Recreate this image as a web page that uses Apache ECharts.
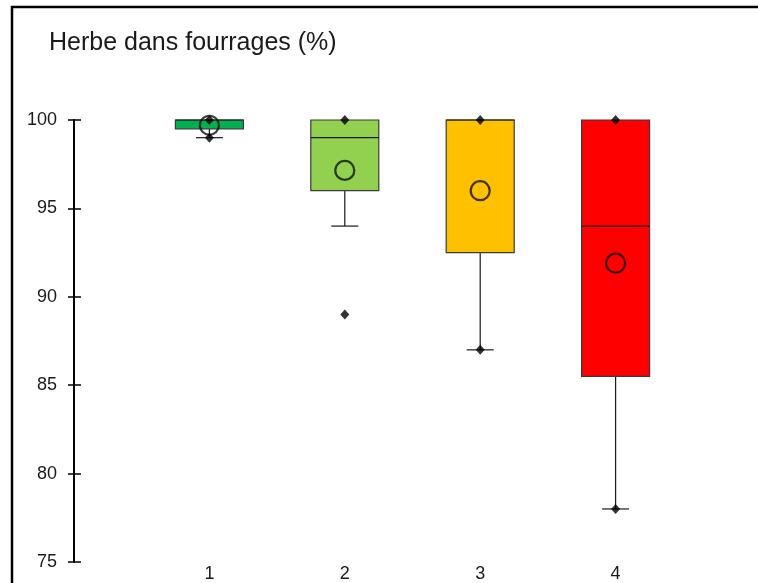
<!DOCTYPE html>
<html>
<head>
<meta charset="utf-8">
<script src="https://cdn.jsdelivr.net/npm/echarts@6/dist/echarts.min.js"></script>
<style>
html,body{margin:0;padding:0;background:#fff;}
#chart{width:758px;height:583px;}
</style>
</head>
<body>
<div id="chart"></div>
<script>
// ---- data ----
var titleText = 'Herbe dans fourrages (%)';
var categories = [1, 2, 3, 4];
var xLabels = ['1', '2', '3', '4'];
var q1Values = [99.5, 96, 92.5, 85.5];
var medianValues = [100, 99, 100, 94];
var q3Values = [100, 100, 100, 100];
var whiskerLow = [99, 94, 87, 78];
var whiskerHigh = [100, 100, 100, 100];
var meanValues = [99.7, 97.15, 96, 91.9];
var maxPoints = [100, 100, 100, 100];
var minPoints = [99, 89, 87, 78];
var boxColors = ['#00B050', '#92D050', '#FFC000', '#FF0000'];
var yTicks = [75, 80, 85, 90, 95, 100];

// ---- build ----
var boxData = categories.map(function (c, i) {
  return [c, q1Values[i], medianValues[i], q3Values[i], whiskerLow[i], whiskerHigh[i]];
});
var meanData = categories.map(function (c, i) { return [c, meanValues[i]]; });
var pointData = [];
categories.forEach(function (c, i) {
  pointData.push([c, maxPoints[i]]);
  pointData.push([c, minPoints[i]]);
});

var BOX_W = 68, CAP_W = 27;

function renderBox(params, api) {
  var i = params.dataIndex;
  var x = api.value(0);
  var pQ1 = api.coord([x, api.value(1)]);
  var pMed = api.coord([x, api.value(2)]);
  var pQ3 = api.coord([x, api.value(3)]);
  var pLo = api.coord([x, api.value(4)]);
  var pHi = api.coord([x, api.value(5)]);
  var cx = pQ1[0];
  var children = [];
  children.push({type: 'line', shape: {x1: cx, y1: pQ1[1], x2: cx, y2: pLo[1]},
    style: {stroke: '#1a1a1a', lineWidth: 1.2}});
  children.push({type: 'line', shape: {x1: cx - CAP_W / 2, y1: pLo[1], x2: cx + CAP_W / 2, y2: pLo[1]},
    style: {stroke: '#1a1a1a', lineWidth: 1.2}});
  if (pHi[1] < pQ3[1]) {
    children.push({type: 'line', shape: {x1: cx, y1: pQ3[1], x2: cx, y2: pHi[1]},
      style: {stroke: '#1a1a1a', lineWidth: 1.2}});
    children.push({type: 'line', shape: {x1: cx - CAP_W / 2, y1: pHi[1], x2: cx + CAP_W / 2, y2: pHi[1]},
      style: {stroke: '#1a1a1a', lineWidth: 1.2}});
  }
  children.push({type: 'rect',
    shape: {x: cx - BOX_W / 2, y: pQ3[1], width: BOX_W, height: pQ1[1] - pQ3[1]},
    style: {fill: boxColors[i], stroke: '#3a3a3a', lineWidth: 1.2}});
  children.push({type: 'line', shape: {x1: cx - BOX_W / 2, y1: pMed[1], x2: cx + BOX_W / 2, y2: pMed[1]},
    style: {stroke: '#1a1a1a', lineWidth: 1.2}});
  return {type: 'group', children: children};
}

var chart = echarts.init(document.getElementById('chart'), null, {renderer: 'canvas'});
chart.setOption({
  backgroundColor: '#ffffff',
  animation: false,
  title: {
    text: titleText,
    left: 49, top: 31, padding: 0,
    textStyle: {fontFamily: 'Liberation Sans, Arial, sans-serif', fontSize: 25, fontWeight: 'normal', color: '#1a1a1a'}
  },
  grid: {left: 74, right: 7, top: 120, bottom: 20, containLabel: false},
  xAxis: {
    type: 'value', min: 0, max: 5, interval: 1,
    axisLine: {show: false}, axisTick: {show: false}, splitLine: {show: false},
    axisLabel: {
      margin: 3,
      fontFamily: 'Liberation Sans, Arial, sans-serif', fontSize: 18, color: '#1a1a1a',
      formatter: function (v) { var k = categories.indexOf(v); return k >= 0 ? xLabels[k] : ''; }
    }
  },
  yAxis: [{
    type: 'value', min: yTicks[0], max: yTicks[yTicks.length - 1], interval: 5,
    axisLine: {show: true, lineStyle: {color: '#000', width: 2}},
    axisTick: {show: true, inside: false, length: 6, lineStyle: {color: '#000', width: 1.5}},
    splitLine: {show: false},
    axisLabel: {margin: 17, fontFamily: 'Liberation Sans, Arial, sans-serif', fontSize: 18, color: '#1a1a1a'}
  }, {
    type: 'value', min: yTicks[0], max: yTicks[yTicks.length - 1], interval: 5, position: 'left',
    axisLine: {show: false},
    axisTick: {show: true, inside: true, length: 7, lineStyle: {color: '#000', width: 1.5}},
    splitLine: {show: false},
    axisLabel: {show: false}
  }],
  graphic: [{
    type: 'polyline', silent: true,
    shape: {points: [[12, 590], [12, 7], [765, 7]]},
    style: {stroke: '#000', lineWidth: 2.5, fill: null}
  }],
  series: [{
    type: 'custom', name: 'box', renderItem: renderBox, data: boxData,
    encode: {x: 0, y: [1, 2, 3, 4, 5]}, z: 2
  }, {
    type: 'scatter', name: 'mean', data: meanData, symbol: 'circle', symbolSize: 19,
    itemStyle: {color: 'rgba(0,0,0,0)', borderColor: '#111', borderWidth: 2.2}, z: 3
  }, {
    type: 'scatter', name: 'points', data: pointData, symbol: 'diamond', symbolSize: [9, 10],
    itemStyle: {color: '#000'}, z: 4
  }]
});
</script>
</body>
</html>
